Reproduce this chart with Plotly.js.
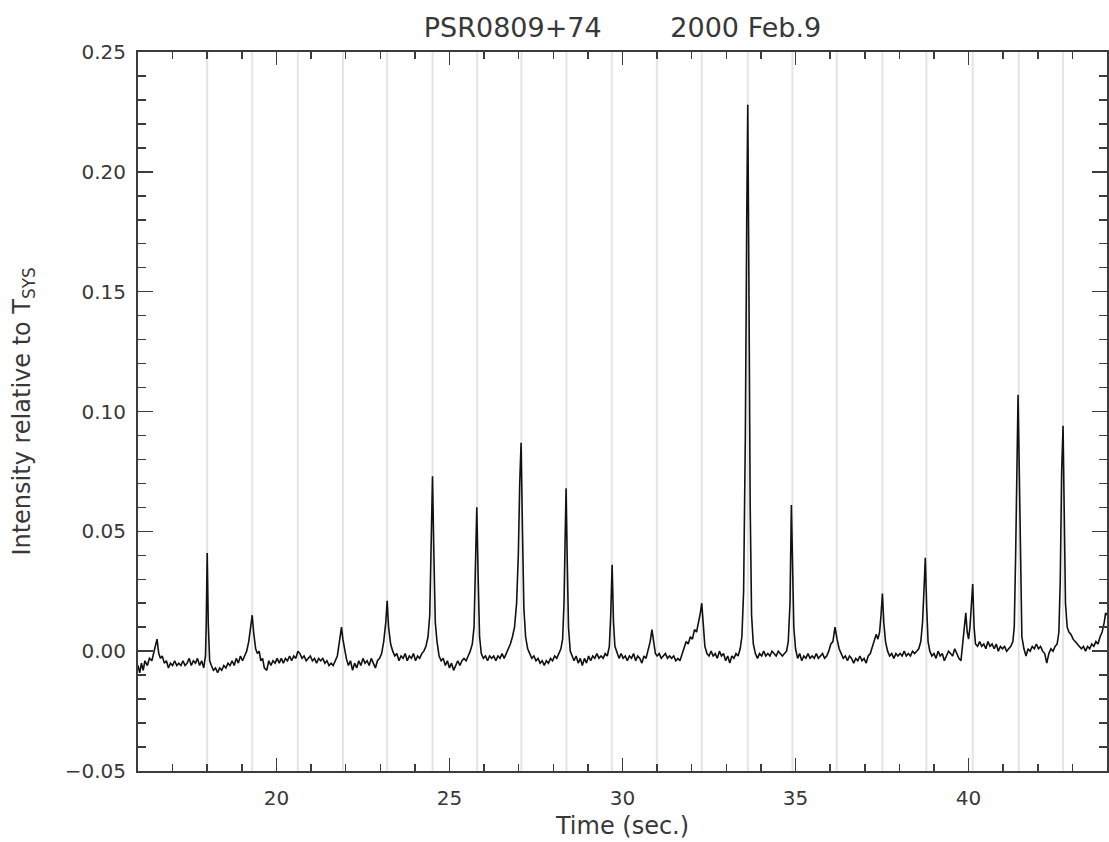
<!DOCTYPE html>
<html>
<head>
<meta charset="utf-8">
<script src="https://cdn.plot.ly/plotly-3.0.1.min.js"></script>
<style>html,body{margin:0;padding:0;background:#fff;}#chart{width:1109px;height:842px;}</style>
</head>
<body>
<div id="chart"></div>
<script>
// Time samples (seconds)
const timeSec = [
16.00,16.05,16.10,16.15,16.20,16.27,16.33,16.40,16.45,16.50,16.55,16.60,16.65,16.70,16.76,16.82,16.88,16.94,17.00,17.06,17.12,17.18,17.24,17.30,17.36,17.42,17.48,17.54,17.60,17.66,17.72,17.78,17.84,17.90,17.95,
17.97,18.00,18.03,18.07,
18.12,18.18,18.24,18.30,18.36,18.42,18.48,18.54,18.60,18.66,18.72,18.78,18.84,18.90,18.96,19.02,19.08,19.14,19.20,19.26,19.30,19.34,19.40,19.45,19.50,19.55,19.60,19.65,19.72,19.78,19.84,19.90,19.96,
20.02,20.08,20.14,20.20,20.26,20.32,20.38,20.44,20.50,20.56,20.62,20.68,20.74,20.80,20.86,20.92,20.98,21.04,21.10,21.16,21.22,21.28,21.34,21.40,21.46,21.52,21.58,21.64,21.70,21.76,21.82,21.88,21.92,21.97,
22.02,22.08,22.14,22.20,22.26,22.32,22.38,22.44,22.50,22.56,22.62,22.68,22.74,22.80,22.86,22.92,22.98,23.04,23.10,23.16,23.20,23.24,23.30,23.36,23.42,23.48,23.54,23.60,23.66,23.72,23.78,23.84,23.90,23.96,
24.02,24.08,24.14,24.20,24.26,24.32,24.38,24.43,24.47,24.51,24.55,24.59,24.64,24.70,24.76,24.82,24.88,24.94,
25.00,25.06,25.12,25.18,25.24,25.30,25.36,25.42,25.48,25.54,25.60,25.66,25.71,25.75,25.79,25.83,25.87,25.92,25.98,
26.04,26.10,26.16,26.22,26.28,26.34,26.40,26.46,26.52,26.58,26.64,26.70,26.76,26.82,26.88,26.94,26.99,
27.03,27.07,27.11,27.15,27.20,27.26,27.32,27.38,27.44,27.50,27.56,27.62,27.68,27.74,27.80,27.86,27.92,27.98,
28.04,28.10,28.16,28.22,28.27,28.31,28.34,28.37,28.40,28.44,28.49,28.54,28.60,28.66,28.72,28.78,28.84,28.90,28.96,
29.02,29.08,29.14,29.20,29.26,29.32,29.38,29.44,29.50,29.56,29.62,29.66,29.70,29.74,29.78,29.84,29.90,29.96,
30.02,30.08,30.14,30.20,30.26,30.32,30.38,30.44,30.50,30.56,30.62,30.68,30.74,30.80,30.85,30.90,30.95,
31.00,31.06,31.12,31.18,31.24,31.30,31.36,31.42,31.48,31.54,31.60,31.66,31.72,31.78,31.84,31.90,31.96,
32.02,32.08,32.14,32.20,32.25,32.29,32.33,32.38,32.44,32.50,32.56,32.62,32.68,32.74,32.80,32.86,32.92,32.98,
33.04,33.10,33.16,33.22,33.28,33.34,33.40,33.45,33.50,33.55,33.59,33.62,33.65,33.69,33.73,33.78,33.84,33.90,33.96,
34.02,34.08,34.14,34.20,34.26,34.32,34.38,34.44,34.50,34.56,34.62,34.68,34.74,34.79,34.84,34.88,34.91,34.95,
35.00,35.06,35.12,35.18,35.24,35.30,35.36,35.42,35.48,35.54,35.60,35.66,35.72,35.78,35.84,35.90,35.96,
36.02,36.08,36.14,36.20,36.26,36.32,36.38,36.44,36.50,36.56,36.62,36.68,36.74,36.80,36.86,36.92,36.98,
37.04,37.10,37.16,37.22,37.28,37.33,37.38,37.43,37.47,37.51,37.55,37.60,37.66,37.72,37.78,37.84,37.90,37.96,
38.02,38.08,38.14,38.20,38.26,38.32,38.38,38.44,38.50,38.56,38.62,38.67,38.71,38.75,38.79,38.83,38.88,38.94,
39.00,39.06,39.12,39.18,39.24,39.30,39.36,39.42,39.48,39.54,39.60,39.66,39.72,39.78,39.83,39.88,39.92,39.96,
40.00,40.04,40.08,40.12,40.16,40.20,40.26,40.32,40.38,40.44,40.50,40.56,40.62,40.68,40.74,40.80,40.86,40.92,40.98,
41.04,41.10,41.16,41.22,41.28,41.32,41.36,41.40,41.43,41.46,41.50,41.54,41.60,41.66,41.72,41.78,41.84,41.90,41.96,
42.02,42.08,42.14,42.20,42.26,42.32,42.38,42.44,42.50,42.56,42.61,42.65,42.69,42.73,42.76,42.80,42.85,42.90,42.96,
43.02,43.08,43.14,43.20,43.26,43.32,43.38,43.44,43.50,43.56,43.62,43.68,43.74,43.80,43.86,43.92,43.96,44.00
];

// Intensity relative to T_sys
const intensity = [
-0.006,-0.009,-0.005,-0.008,-0.004,-0.006,-0.003,-0.004,-0.001,0.002,0.005,-0.001,-0.003,-0.002,-0.005,-0.004,-0.007,-0.005,-0.006,-0.004,-0.006,-0.005,-0.006,-0.004,-0.006,-0.005,-0.003,-0.006,-0.004,-0.005,-0.003,-0.006,-0.004,-0.007,-0.002,
0.010,0.041,0.012,-0.004,
-0.006,-0.008,-0.007,-0.009,-0.007,-0.008,-0.006,-0.007,-0.005,-0.006,-0.004,-0.006,-0.003,-0.005,-0.002,-0.004,-0.002,0.000,0.004,0.010,0.015,0.008,0.001,-0.001,0.000,-0.004,-0.003,-0.007,-0.008,-0.004,-0.006,-0.004,-0.005,
-0.003,-0.005,-0.003,-0.005,-0.003,-0.004,-0.002,-0.004,-0.002,-0.003,0.000,-0.001,-0.003,-0.002,-0.004,-0.003,-0.002,-0.004,-0.003,-0.005,-0.003,-0.004,-0.003,-0.005,-0.004,-0.006,-0.005,-0.006,-0.004,-0.002,0.004,0.010,0.005,0.000,
-0.003,-0.006,-0.004,-0.008,-0.005,-0.007,-0.004,-0.006,-0.003,-0.005,-0.004,-0.006,-0.003,-0.005,-0.007,-0.004,-0.003,-0.001,0.004,0.012,0.021,0.010,0.003,0.000,-0.002,-0.001,-0.004,-0.002,-0.003,-0.001,-0.004,-0.002,-0.003,-0.001,
-0.004,-0.002,-0.003,-0.001,0.000,0.002,0.006,0.015,0.045,0.073,0.040,0.012,0.004,-0.002,-0.004,-0.003,-0.006,-0.004,
-0.007,-0.005,-0.008,-0.006,-0.004,-0.006,-0.004,-0.003,-0.004,-0.002,0.000,0.003,0.010,0.035,0.060,0.030,0.006,-0.001,-0.003,
-0.002,-0.004,-0.002,-0.003,-0.002,-0.004,-0.002,-0.003,-0.001,-0.003,-0.001,0.001,0.003,0.006,0.010,0.020,0.040,
0.070,0.087,0.050,0.018,0.006,0.001,-0.001,-0.003,-0.002,-0.004,-0.003,-0.005,-0.004,-0.006,-0.004,-0.005,-0.003,-0.004,
-0.002,-0.003,-0.001,0.001,0.005,0.020,0.045,0.068,0.040,0.010,0.000,-0.002,-0.004,-0.002,-0.005,-0.003,-0.006,-0.003,-0.005,
-0.002,-0.004,-0.002,-0.003,-0.001,-0.003,-0.002,-0.003,-0.001,-0.002,0.002,0.015,0.036,0.012,0.002,-0.001,-0.003,-0.001,
-0.003,-0.002,-0.004,-0.002,-0.003,-0.001,-0.004,-0.002,-0.003,-0.005,-0.002,-0.003,0.000,0.004,0.009,0.003,-0.001,
-0.002,-0.001,-0.003,-0.002,-0.001,-0.003,-0.002,-0.003,-0.002,-0.004,-0.003,-0.004,-0.001,0.002,0.004,0.003,0.006,
0.005,0.009,0.008,0.012,0.016,0.020,0.010,0.002,-0.001,-0.002,0.000,-0.002,-0.001,-0.003,0.000,-0.002,-0.001,-0.004,
-0.002,-0.005,-0.002,-0.003,-0.001,-0.002,0.001,0.006,0.025,0.090,0.180,0.228,0.160,0.060,0.015,0.003,-0.001,-0.003,-0.001,
-0.002,0.000,-0.002,-0.001,-0.002,0.000,-0.001,-0.002,0.000,-0.001,-0.002,-0.001,0.000,0.004,0.020,0.061,0.040,0.010,
0.001,-0.003,-0.001,-0.004,-0.002,-0.003,-0.001,-0.003,-0.002,-0.003,-0.001,-0.003,-0.002,-0.001,-0.003,-0.002,0.000,
0.003,0.004,0.010,0.005,0.001,-0.001,-0.003,-0.002,-0.004,-0.002,-0.003,-0.005,-0.003,-0.004,-0.002,-0.004,-0.003,
-0.005,-0.002,-0.001,0.002,0.004,0.007,0.005,0.008,0.015,0.024,0.012,0.004,0.000,-0.002,-0.001,-0.003,-0.001,-0.002,
-0.001,-0.002,0.000,-0.002,-0.001,-0.002,0.000,-0.001,0.000,0.001,0.004,0.012,0.025,0.039,0.018,0.004,0.000,-0.002,
-0.001,-0.003,0.000,-0.002,-0.001,-0.004,-0.002,0.000,-0.001,-0.002,0.001,-0.001,-0.003,-0.004,0.004,0.012,0.016,0.008,
0.005,0.010,0.020,0.028,0.010,0.003,0.002,0.004,0.002,0.003,0.001,0.004,0.002,0.003,0.001,0.003,0.000,0.002,0.001,
0.002,0.000,0.001,0.002,0.004,0.010,0.040,0.085,0.107,0.080,0.030,0.006,0.001,-0.002,0.001,0.000,0.002,0.001,0.003,
0.001,0.002,0.000,-0.001,-0.005,-0.001,0.001,0.000,0.002,0.003,0.008,0.030,0.075,0.094,0.060,0.020,0.010,0.008,0.007,
0.005,0.004,0.003,0.002,0.001,0.002,0.000,0.002,0.001,0.003,0.002,0.004,0.003,0.006,0.008,0.012,0.016,0.015
];

// Pulse-period marker times (seconds)
const pulseTimes = [18.00,19.30,20.62,21.92,23.20,24.51,25.80,27.08,28.38,29.69,30.99,32.29,33.62,34.91,36.19,37.51,38.78,40.12,41.45,42.73];

// Axis tick labels
const xTickVals = [20,25,30,35,40];
const yTickVals = [-0.05,0,0.05,0.10,0.15,0.20,0.25];
const yTickText = ["\u22120.05","0.00","0.05","0.10","0.15","0.20","0.25"];

const FONT = "DejaVu Sans, Liberation Sans, sans-serif";
const TXT = "#383838";
const AX = "#3c3c3c";

const shapes = pulseTimes.map(t => ({
  type: "line", xref: "x", yref: "paper", x0: t, x1: t, y0: 0, y1: 1,
  line: {color: "#e4e4e4", width: 2}, layer: "below"
}));

const trace = {
  x: timeSec, y: intensity, type: "scatter", mode: "lines",
  line: {color: "#111", width: 1.6}, hoverinfo: "skip"
};

const layout = {
  width: 1109, height: 842,
  margin: {l: 138, r: 2, t: 52, b: 71, pad: 0},
  paper_bgcolor: "#fff", plot_bgcolor: "#fff",
  showlegend: false,
  font: {family: FONT, color: TXT, size: 20},
  title: {
    text: "PSR0809+74&nbsp;&nbsp;&nbsp;&nbsp;&nbsp;&nbsp;&nbsp;&nbsp;2000 Feb.9",
    font: {family: FONT, size: 27, color: TXT},
    x: 0.5, xref: "paper", xanchor: "center",
    y: 1 - 28/842, yref: "container", yanchor: "middle"
  },
  xaxis: {
    range: [16, 44], autorange: false,
    tickvals: xTickVals, ticktext: xTickVals.map(String),
    ticks: "inside", ticklen: 13, tickwidth: 1.5, tickcolor: AX,
    minor: {dtick: 1, tick0: 0, ticks: "inside", ticklen: 7, tickwidth: 1.5, tickcolor: AX, showgrid: false},
    showline: true, linecolor: AX, linewidth: 2, mirror: "allticks",
    showgrid: false, zeroline: false,
    tickfont: {family: FONT, size: 20, color: TXT},
    ticklabelstandoff: 8,
    title: {text: "Time (sec.)", font: {family: FONT, size: 24, color: TXT}, standoff: 8}
  },
  yaxis: {
    range: [-0.05, 0.25], autorange: false,
    tickvals: yTickVals, ticktext: yTickText,
    ticks: "inside", ticklen: 15, tickwidth: 1.5, tickcolor: AX,
    minor: {dtick: 0.01, tick0: 0, ticks: "inside", ticklen: 8, tickwidth: 1.5, tickcolor: AX, showgrid: false},
    showline: true, linecolor: AX, linewidth: 2, mirror: "allticks",
    showgrid: false, zeroline: false,
    tickfont: {family: FONT, size: 20, color: TXT},
    ticklabelstandoff: 6,
    title: {text: "Intensity relative to T<sub>SYS</sub>", font: {family: FONT, size: 24, color: TXT}, standoff: 27}
  },
  shapes: shapes
};

Plotly.newPlot("chart", [trace], layout, {displayModeBar: false, staticPlot: true});
</script>
</body>
</html>
